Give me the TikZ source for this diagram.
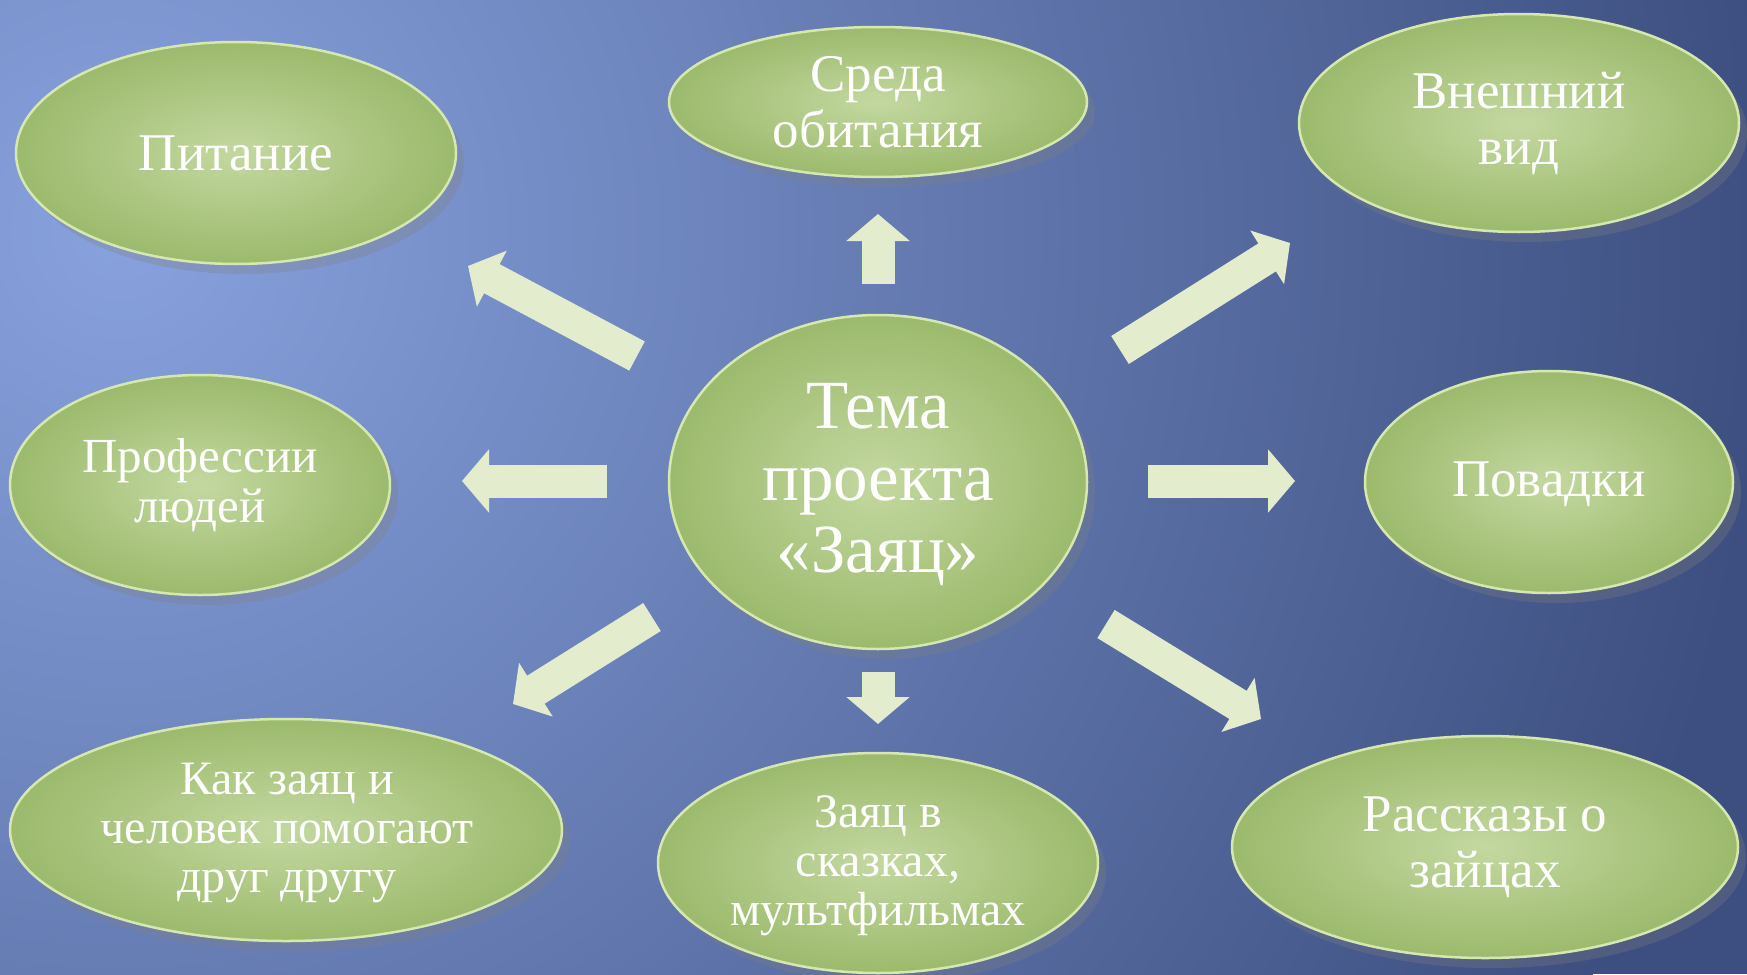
\documentclass[tikz,border=0pt]{standalone}
\usepackage{fontspec}
\setmainfont{Liberation Serif}
\usetikzlibrary{shapes.geometric,arrows.meta,shadows}
\definecolor{bgdark}{HTML}{3D4F80}
\definecolor{bglight}{HTML}{88A2DE}
\definecolor{gin}{HTML}{C3D8A0}
\definecolor{gout}{HTML}{9CBA6C}
\definecolor{rim}{HTML}{D6E8B0}
\definecolor{arrowc}{HTML}{E3EDCD}
\begin{document}
\begin{tikzpicture}[x=1pt,y=-1pt,
  bubble/.style={ellipse, inner sep=0pt, draw=rim, line width=2.5pt,
    inner color=gin, outer color=gout,
    drop shadow={opacity=0.3,shadow xshift=8pt,shadow yshift=-10pt}},
  lbl/.style={text=white, align=center, inner sep=0pt, font=\fontsize{53}{56}\selectfont},
  lblsmall/.style={lbl, font=\fontsize{48}{49}\selectfont},
  lblbig/.style={lbl, font=\fontsize{69}{72}\selectfont},
  blk/.style={line width=33pt, draw=arrowc, line cap=butt,
    -{Triangle[length=27pt,width=62pt]}}]
\path[use as bounding box] (0,0) rectangle (1747,974);
\begin{scope}
  \clip (0,0) rectangle (1747,974);
  \fill[bgdark] (0,0) rectangle (1747,974);
  \shade[inner color=bglight, outer color=bgdark] (120,230) circle (1650);
\end{scope}

% arrows
\coordinate (upA) at (878,284);   \coordinate (upB) at (878,214);
\coordinate (dnA) at (878,672);   \coordinate (dnB) at (878,724);
\coordinate (lA) at (607,481);    \coordinate (lB) at (462,481);
\coordinate (rA) at (1148,481);   \coordinate (rB) at (1295,481);
\coordinate (ulA) at (637,356);   \coordinate (ulB) at (468,266);
\coordinate (urA) at (1120,350);  \coordinate (urB) at (1290,243);
\coordinate (llA) at (652,617);   \coordinate (llB) at (513,704);
\coordinate (lrA) at (1106,624);  \coordinate (lrB) at (1261,719);
\foreach \a/\b in {upA/upB,dnA/dnB,lA/lB,rA/rB,ulA/ulB,urA/urB,llA/llB,lrA/lrB}
  \draw[blk] (\a) -- (\b);

% bubbles
\node[bubble, minimum width=440pt, minimum height=222pt] (pit) at (236,153) {};
\node[bubble, minimum width=418pt, minimum height=150pt] (sreda) at (878,102) {};
\node[bubble, minimum width=440pt, minimum height=218pt] (vid) at (1519,123) {};
\node[bubble, minimum width=380pt, minimum height=220pt] (prof) at (200,485) {};
\node[bubble, minimum width=418pt, minimum height=334pt] (tema) at (878,482) {};
\node[bubble, minimum width=368pt, minimum height=222pt] (pov) at (1549,482) {};
\node[bubble, minimum width=552pt, minimum height=222pt] (kak) at (286,830) {};
\node[bubble, minimum width=440pt, minimum height=220pt] (skaz) at (878,863) {};
\node[bubble, minimum width=506pt, minimum height=222pt] (rass) at (1485,847) {};

% labels
\node[lbl] at (236,153) {Питание};
\node[lbl] at (878,102) {Среда\\обитания};
\node[lbl] at (1519,123) {Внешний\\вид};
\node[lbl, font=\fontsize{49}{50}\selectfont] at (200,485) {Профессии\\людей};
\node[lblbig] at (878,485) {Тема\\проекта\\«Заяц»};
\node[lbl] at (1549,484) {Повадки};
\node[lblsmall] at (287,833) {Как заяц и\\человек помогают\\друг другу};
\node[lblsmall] at (878,866) {Заяц в\\сказках,\\мультфильмах};
\node[lbl] at (1485,847) {Рассказы о\\зайцах};
\end{tikzpicture}
\end{document}
